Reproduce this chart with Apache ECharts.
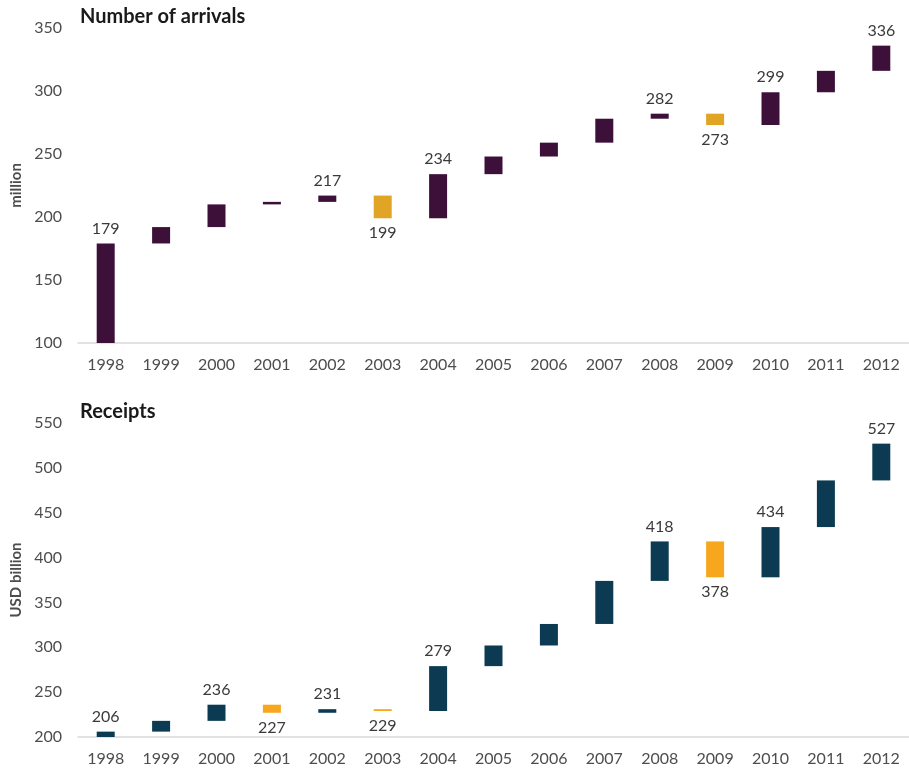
<!DOCTYPE html>
<html>
<head>
<meta charset="utf-8">
<script src="https://cdn.jsdelivr.net/npm/echarts@6/dist/echarts.min.js"></script>
<style>
  html, body { margin: 0; padding: 0; background: #ffffff; }
  #chart { width: 909px; height: 769px; }
</style>
</head>
<body>
<div id="chart"></div>
<script>
// Years on the category axis
const years = ['1998', '1999', '2000', '2001', '2002', '2003', '2004', '2005',
               '2006', '2007', '2008', '2009', '2010', '2011', '2012'];

// International tourist arrivals, million
const arrivals = [179, 192, 210, 212, 217, 199, 234, 248, 259, 278, 282, 273, 299, 316, 336];
// International tourism receipts, USD billion
const receipts = [206, 218, 236, 227, 231, 229, 279, 302, 326, 374, 418, 378, 434, 486, 527];

// Years whose level is written next to the bar
const arrivalsLabelled = ['1998', '2002', '2003', '2004', '2008', '2009', '2010', '2012'];
const receiptsLabelled = ['1998', '2000', '2001', '2002', '2003', '2004', '2008', '2009', '2010', '2012'];

// Value-axis ranges
const arrivalsAxis = { min: 100, max: 350, interval: 50 };
const receiptsAxis = { min: 200, max: 550, interval: 50 };

const FONT = 'Lato';
const GRID_LEFT = 78;
const GRID_WIDTH = 840;

// Split a level series into an invisible base plus rise / fall segments
function waterfall(values, floor) {
  const base = [], rise = [], fall = [];
  values.forEach((v, i) => {
    const prev = i === 0 ? floor : values[i - 1];
    base.push(Math.min(prev, v));
    if (v >= prev) { rise.push(v - prev); fall.push('-'); }
    else { fall.push(prev - v); rise.push('-'); }
  });
  return { base, rise, fall };
}

function labelFor(values, labelled) {
  return p => labelled.includes(years[p.dataIndex]) ? String(values[p.dataIndex]) : '';
}

function seriesFor(idx, values, floor, labelled, upColor, downColor) {
  const w = waterfall(values, floor);
  const stack = 's' + idx;
  const labelStyle = { show: true, fontFamily: FONT, fontSize: 16, color: '#3a3a3a', distance: 7 };
  return [
    { type: 'bar', xAxisIndex: idx, yAxisIndex: idx, stack, data: w.base,
      barWidth: 18, itemStyle: { color: 'transparent' }, silent: true },
    { type: 'bar', xAxisIndex: idx, yAxisIndex: idx, stack, data: w.rise,
      barWidth: 18, itemStyle: { color: upColor },
      label: Object.assign({ position: 'top', formatter: labelFor(values, labelled) }, labelStyle) },
    { type: 'bar', xAxisIndex: idx, yAxisIndex: idx, stack, data: w.fall,
      barWidth: 18, itemStyle: { color: downColor },
      label: Object.assign({ position: 'bottom', formatter: labelFor(values, labelled) }, labelStyle) }
  ];
}

function xAxisFor(idx) {
  return {
    type: 'category', gridIndex: idx, data: years,
    axisLine: { lineStyle: { color: '#d9d9d9', width: 1.5 } },
    axisTick: { show: false },
    axisLabel: { fontFamily: FONT, fontSize: 16, color: '#4d4d4d', margin: 14 }
  };
}

function yAxisFor(idx, range, name) {
  return {
    type: 'value', gridIndex: idx, min: range.min, max: range.max, interval: range.interval,
    name, nameLocation: 'middle', nameGap: 48,
    nameTextStyle: { fontFamily: FONT, fontSize: 15, fontWeight: 'bold', color: '#4d4d4d' },
    axisLine: { show: false }, axisTick: { show: false }, splitLine: { show: false },
    axisLabel: { fontFamily: FONT, fontSize: 16, color: '#4d4d4d', margin: 16 }
  };
}

const chart = echarts.init(document.getElementById('chart'));
chart.setOption({
  backgroundColor: '#ffffff',
  animation: false,
  title: [
    { text: 'Number of arrivals', left: 75, top: 2,
      textStyle: { fontFamily: FONT, fontSize: 20, fontWeight: 'bold', color: '#1a1a1a' } },
    { text: 'Receipts', left: 75, top: 397,
      textStyle: { fontFamily: FONT, fontSize: 20, fontWeight: 'bold', color: '#1a1a1a' } }
  ],
  grid: [
    { left: GRID_LEFT, width: GRID_WIDTH, top: 28, height: 315 },
    { left: GRID_LEFT, width: GRID_WIDTH, top: 423, height: 314 }
  ],
  xAxis: [xAxisFor(0), xAxisFor(1)],
  yAxis: [yAxisFor(0, arrivalsAxis, 'million'), yAxisFor(1, receiptsAxis, 'USD billion')],
  series: [
    ...seriesFor(0, arrivals, arrivalsAxis.min, arrivalsLabelled, '#3c1039', '#e0a524'),
    ...seriesFor(1, receipts, receiptsAxis.min, receiptsLabelled, '#0b3a52', '#f7a71d')
  ]
});
</script>
</body>
</html>
